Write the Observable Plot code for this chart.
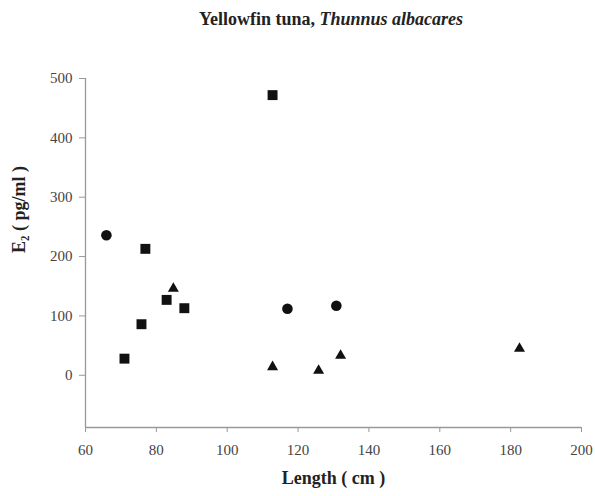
<!DOCTYPE html>
<html>
<head>
<meta charset="utf-8">
<script src="https://cdn.jsdelivr.net/npm/d3@7"></script>
<script src="https://cdn.jsdelivr.net/npm/@observablehq/plot@0.6"></script>
<style>
  body { margin: 0; background: #fff; }
  #title { width: 595px; height: 30px; box-sizing: border-box; padding-top: 10px; padding-left: 67px;
           text-align: center; font-family: "Liberation Serif", serif; font-weight: bold; font-size: 18px;
           line-height: 1; color: #222; white-space: nowrap; }
</style>
</head>
<body>
<div id="title">Yellowfin tuna, <i>Thunnus albacares</i></div>
<div id="chart"></div>
<script>
// Data
const circleLength = [65.9, 117.0, 130.8];
const circleE2     = [236, 112, 117];
const squareLength = [76.9, 82.9, 87.9, 75.8, 71.0, 112.8];
const squareE2     = [213, 127, 113, 86, 28, 472];
const triangleLength = [84.8, 112.8, 125.8, 132.0, 182.5];
const triangleE2     = [146, 14, 8, 33, 45];
const xTicks = [60, 80, 100, 120, 140, 160, 180, 200];
const yTicks = [0, 100, 200, 300, 400, 500];
const xLabel = "Length ( cm )";
const yLabel = "E\u2082 ( pg/ml )";

const toRows = (xs, ys) => xs.map((x, i) => ({length: x, e2: ys[i]}));
const circles = toRows(circleLength, circleE2);
const squares = toRows(squareLength, squareE2);
const triangles = toRows(triangleLength, triangleE2);

const axisColor = "#999";
const chart = Plot.plot({
  width: 595,
  height: 466,
  marginLeft: 85,
  marginRight: 14,
  marginTop: 48,
  marginBottom: 69,
  style: {fontFamily: "Liberation Serif, serif", fontSize: "15px", background: "#fff", color: "#444"},
  x: {domain: [60, 200]},
  y: {domain: [-88, 500]},
  marks: [
    Plot.ruleX([60], {stroke: axisColor, strokeWidth: 1.3}),
    Plot.ruleY([-88], {stroke: axisColor, strokeWidth: 1.3}),
    Plot.axisX({ticks: xTicks, tickSize: 5, tickPadding: 12, label: null, stroke: axisColor, fill: "#444", fontSize: 15}),
    Plot.axisY({ticks: yTicks, tickSize: 6, tickPadding: 7, label: null, stroke: axisColor, fill: "#444", fontSize: 15}),
    Plot.text([xLabel], {frameAnchor: "bottom", dy: 56, fontWeight: "bold", fontSize: 18, fill: "#222"}),
    Plot.text([yLabel], {frameAnchor: "left", dx: -66, rotate: -90, fontWeight: "bold", fontSize: 18, fill: "#222"}),
    Plot.dot(circles, {x: "length", y: "e2", symbol: "circle", r: 5.3, fill: "#111", stroke: "none"}),
    Plot.dot(squares, {x: "length", y: "e2", symbol: "square", r: 5.6, fill: "#111", stroke: "none"}),
    Plot.dot(triangles, {x: "length", y: "e2", symbol: "triangle", r: 4.1, fill: "#111", stroke: "none"})
  ]
});
document.getElementById("chart").appendChild(chart);
</script>
</body>
</html>
